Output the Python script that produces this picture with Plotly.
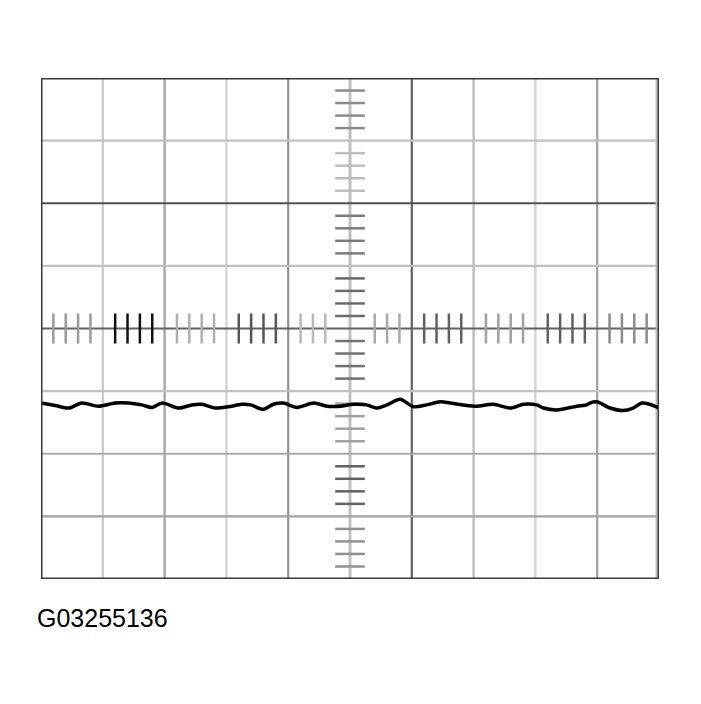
import plotly.graph_objects as go

# scope trace, in divisions (x: 0..10, y: -4..4, 0 = centre line)
trace_x = [0.0, 0.23, 0.45, 0.66, 0.93, 1.20, 1.42, 1.63, 1.80, 1.96,
           2.23, 2.44, 2.60, 2.82, 3.03, 3.25, 3.39, 3.60, 3.76, 3.92,
           4.14, 4.41, 4.63, 4.84, 5.06, 5.27, 5.43, 5.60, 5.81, 6.03,
           6.24, 6.46, 6.62, 6.83, 7.05, 7.32, 7.59, 7.81, 8.02, 8.13,
           8.35, 8.67, 8.83, 8.88, 8.99, 9.21, 9.42, 9.58, 9.72, 9.85, 10.0]
trace_y = [-1.19, -1.23, -1.27, -1.19, -1.24, -1.19, -1.19, -1.22, -1.26, -1.19,
           -1.27, -1.22, -1.21, -1.27, -1.25, -1.21, -1.22, -1.29, -1.21, -1.19,
           -1.26, -1.19, -1.24, -1.24, -1.21, -1.22, -1.27, -1.22, -1.13, -1.25,
           -1.22, -1.17, -1.19, -1.22, -1.24, -1.21, -1.27, -1.21, -1.22, -1.27,
           -1.30, -1.24, -1.22, -1.19, -1.17, -1.27, -1.31, -1.27, -1.19, -1.21, -1.27]

n_xdiv = 10
n_ydiv = 8
n_minor = 5
caption = "G03255136"

# grid shading as printed (vertical lines at x=1..9, horizontal at y=3..-3)
vgrid_colors = ["#c8c8c8", "#a0a0a0", "#d0d0d0", "#909090", "#c0c0c0",
                "#606060", "#b8b8b8", "#d0d0d0", "#a0a0a0"]
hgrid_colors = ["#c0c0c0", "#505050", "#c0c0c0", "#606060", "#c0c0c0",
                "#a8a8a8", "#a0a0a0"]
# minor tick shading per division (centre horizontal line left->right, centre vertical top->bottom)
htick_colors = ["#9a9a9a", "#111111", "#b0b0b0", "#555555", "#b8b8b8",
                "#a8a8a8", "#606060", "#a0a0a0", "#606060", "#8a8a8a"]
vtick_colors = ["#8a8a8a", "#bdbdbd", "#7a7a7a", "#6a6a6a", "#707070",
                "#a0a0a0", "#606060", "#909090"]

ymin, ymax = -n_ydiv / 2, n_ydiv / 2
xc = n_xdiv / 2
tick_half = 0.24

shapes = []
for i, c in enumerate(vgrid_colors, start=1):
    shapes.append(dict(type="line", x0=i, x1=i, y0=ymin, y1=ymax,
                       line=dict(color=c, width=3 if i == 5 else 2.2), layer="below"))
for j, c in enumerate(hgrid_colors):
    yv = ymax - 1 - j
    shapes.append(dict(type="line", x0=0, x1=n_xdiv, y0=yv, y1=yv,
                       line=dict(color=c, width=2.2), layer="below"))

# minor ticks along the centre lines
for d, c in enumerate(htick_colors):
    for k in range(1, n_minor):
        xv = d + k / n_minor
        if abs(xv - xc) < tick_half + 0.05:
            continue
        shapes.append(dict(type="line", x0=xv, x1=xv, y0=-tick_half, y1=tick_half,
                           line=dict(color=c, width=2.5), layer="below"))
for d, c in enumerate(vtick_colors):
    for k in range(1, n_minor):
        yv = ymax - d - k / n_minor
        shapes.append(dict(type="line", x0=xc - tick_half, x1=xc + tick_half, y0=yv, y1=yv,
                           line=dict(color=c, width=2.5), layer="below"))

# frame with its light shadow
shapes.append(dict(type="rect", x0=-0.04, x1=n_xdiv - 0.04, y0=ymin - 0.03, y1=ymax + 0.03,
                   line=dict(color="#bbbbbb", width=2), layer="below"))
shapes.append(dict(type="rect", x0=0, x1=n_xdiv, y0=ymin, y1=ymax,
                   line=dict(color="#3a3a3a", width=3), layer="above"))

fig = go.Figure(go.Scatter(
    x=trace_x, y=trace_y, mode="lines",
    line=dict(color="black", width=3.5, shape="spline", smoothing=0.8),
    hoverinfo="skip", showlegend=False
))

# page body adds ~8px, so the figure is a bit smaller than the window
fig.update_layout(
    width=693, height=696,
    margin=dict(l=33, r=42, t=70, b=125),
    paper_bgcolor="white", plot_bgcolor="white",
    xaxis=dict(range=[0, n_xdiv], visible=False, fixedrange=True),
    yaxis=dict(range=[ymin, ymax], visible=False, fixedrange=True),
    shapes=shapes,
    annotations=[dict(text=caption, xref="paper", yref="paper", x=-0.01, y=-0.077,
                      xanchor="left", yanchor="middle", showarrow=False,
                      font=dict(family="Liberation Sans, Arial", size=25, color="black"))],
)

fig.write_html("out.html")
